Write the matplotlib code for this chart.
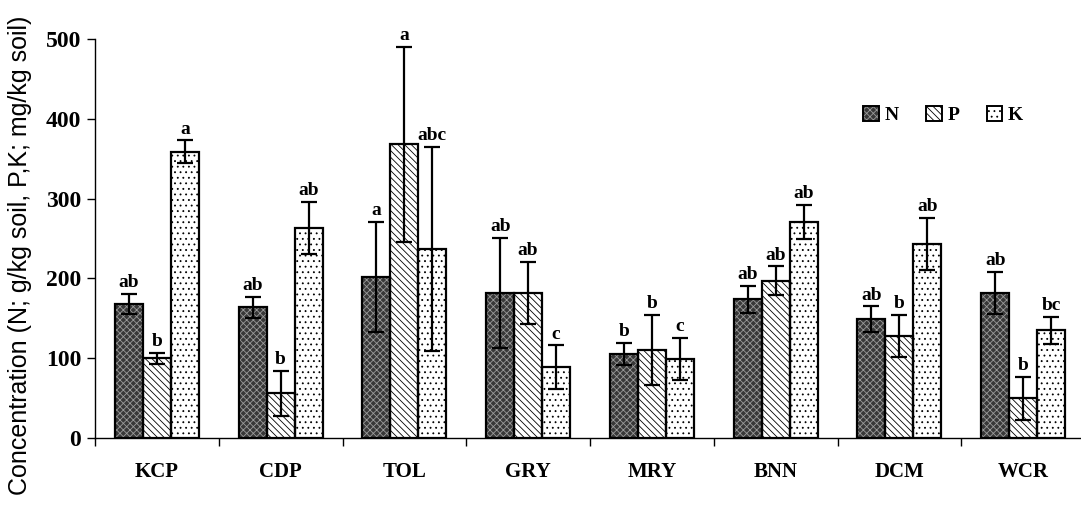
import numpy as np
import matplotlib.pyplot as plt
from matplotlib.patches import Patch
from matplotlib.legend_handler import HandlerTuple

sites = ["KCP", "CDP", "TOL", "GRY", "MRY", "BNN", "DCM", "WCR"]
n_mean = [168, 164, 202, 182, 105, 174, 149, 182]
n_err = [13, 13, 69, 69, 14, 17, 16, 26]
p_mean = [100, 56, 368, 182, 110, 197, 128, 50]
p_err = [7, 28, 122, 39, 44, 18, 26, 27]
k_mean = [359, 263, 237, 89, 99, 271, 243, 135]
k_err = [14, 33, 128, 27, 26, 21, 33, 17]
n_letters = ["ab", "ab", "a", "ab", "b", "ab", "ab", "ab"]
p_letters = ["b", "b", "a", "ab", "b", "ab", "b", "b"]
k_letters = ["a", "ab", "abc", "c", "c", "ab", "ab", "bc"]

plt.rcParams["hatch.linewidth"] = 0.6
serif = "Liberation Serif"

fig = plt.figure(figsize=(10.81, 5.15), dpi=100)
ax = fig.add_axes([95 / 1081, 77 / 515, 990 / 1081, 399 / 515])

x = np.arange(len(sites))
w = 0.226

# (fill colour, hatch colour, hatch)
styles = [
    ("#383838", "#9a9a9a", "xxxxx"),
    ("white", "black", "\\\\\\\\\\"),
    ("white", "black", "..."),
]
series = [(n_mean, n_err, n_letters), (p_mean, p_err, p_letters), (k_mean, k_err, k_letters)]
handles = []
for i, ((mean, err, letters), (fc, hc, hatch)) in enumerate(zip(series, styles)):
    xi = x + (i - 1) * w
    ax.bar(xi, mean, w, color=fc, edgecolor=hc, hatch=hatch, linewidth=0, zorder=2)
    ax.bar(xi, mean, w, fill=False, edgecolor="black", linewidth=1.6, zorder=3)
    ax.errorbar(xi, mean, yerr=err, fmt="none", ecolor="black", elinewidth=1.6,
                capsize=6, capthick=1.6, zorder=4)
    for xx, m, e, lab in zip(xi, mean, err, letters):
        ax.annotate(lab, (xx, m + e), xytext=(0, 2), textcoords="offset points",
                    ha="center", va="bottom", fontsize=14, fontweight="bold",
                    family=serif)
    handles.append((Patch(facecolor=fc, edgecolor=hc, hatch=hatch, linewidth=0),
                    Patch(fill=False, edgecolor="black", linewidth=1.4)))

ax.set_xlim(-0.5, len(sites) - 0.5)
ax.set_ylim(0, 500)
ax.set_yticks([0, 100, 200, 300, 400, 500])
ax.set_yticklabels(["0", "100", "200", "300", "400", "500"], fontsize=17,
                   fontweight="bold", family=serif)
ax.set_xticks(np.arange(-0.5, len(sites), 1.0))
ax.set_xticklabels([])
ax.set_xticks(x, minor=True)
ax.set_xticklabels(sites, minor=True, fontsize=15, fontweight="bold", family=serif)
ax.tick_params(axis="x", which="major", direction="out", length=6, width=1)
ax.tick_params(axis="x", which="minor", length=0, pad=17)
ax.tick_params(axis="y", direction="out", length=6, width=1, pad=4)
for s in ["top", "right"]:
    ax.spines[s].set_visible(False)
ax.spines["left"].set_linewidth(1)
ax.spines["bottom"].set_linewidth(1)

ax.set_ylabel("Concentration (N; g/kg soil, P,K; mg/kg soil)", fontsize=18,
              family="Liberation Sans")
ax.yaxis.set_label_coords(-0.064, 0.459)

ax.legend(handles, ["N", "P", "K"], handler_map={tuple: HandlerTuple(ndivide=1)},
          ncol=3, frameon=False, loc="center", bbox_to_anchor=(0.857, 0.81),
          handlelength=0.8, handleheight=0.8, handletextpad=0.3, columnspacing=1.4,
          prop={"family": serif, "weight": "bold", "size": 14})

fig.savefig("out.png", dpi=100)
